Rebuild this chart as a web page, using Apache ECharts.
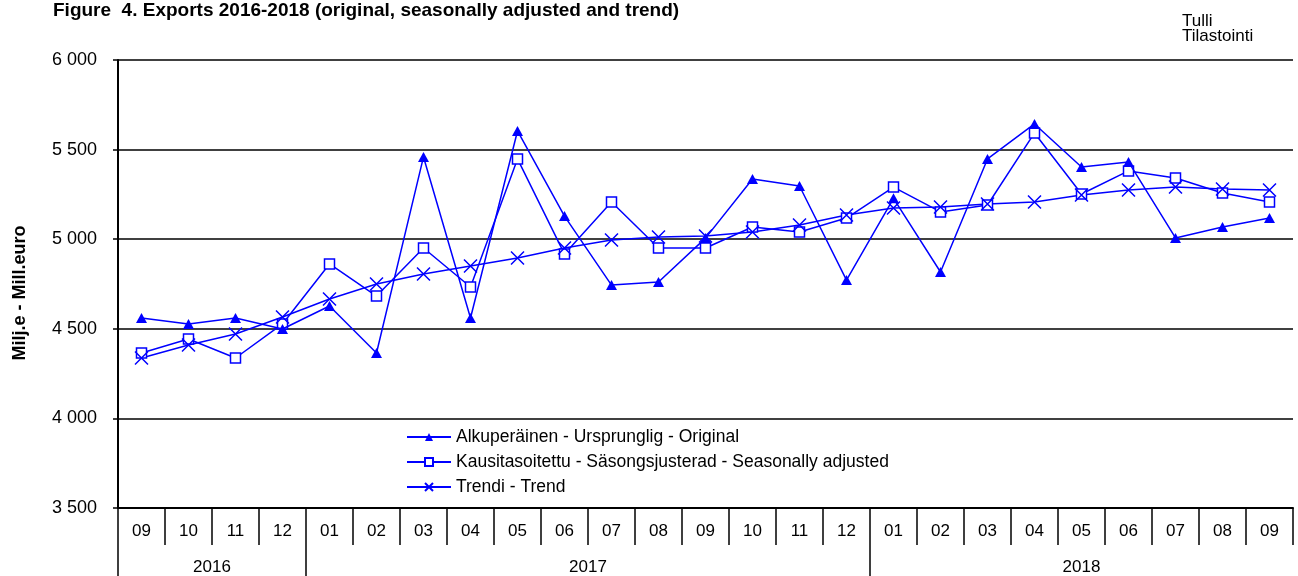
<!DOCTYPE html>
<html>
<head>
<meta charset="utf-8">
<script src="https://cdn.jsdelivr.net/npm/echarts@6/dist/echarts.min.js"></script>
<style>html,body{margin:0;padding:0;background:#fff}#c{width:1298px;height:576px}</style>
</head>
<body>
<div id="c"></div>
<script>
const months = ['09','10','11','12','01','02','03','04','05','06','07','08','09','10','11','12','01','02','03','04','05','06','07','08','09'];
const years = ['2016','2017','2018'];
const yearBoundaries = [0, 4, 16];
const yearCenters = [2, 10, 20.5];
const original = [4560,4527,4560,4499,4627,4365,5459,4560,5604,5129,4744,4761,5006,5336,5297,4772,5228,4817,5448,5643,5403,5431,5007,5068,5118];
const seasonal = [4365,4443,4337,4527,4862,4683,4951,4733,5448,4917,5208,4951,4951,5068,5040,5118,5291,5152,5191,5593,5252,5381,5342,5258,5208];
const trend = [4337,4410,4471,4566,4666,4750,4806,4850,4895,4951,4996,5012,5018,5040,5079,5135,5174,5180,5196,5208,5247,5275,5291,5280,5275];
const names = ['Alkuperäinen - Ursprunglig - Original','Kausitasoitettu - Säsongsjusterad - Seasonally adjusted','Trendi - Trend'];

const FONT = '"Liberation Sans", Arial, sans-serif';
const BLUE = '#0000ff';
const chart = echarts.init(document.getElementById('c'));
chart.setOption({
  animation: false,
  textStyle: {fontFamily: FONT},
  title: [
    {text: 'Figure  4. Exports 2016-2018 (original, seasonally adjusted and trend)', left: 48, top: -4,
     textStyle: {fontFamily: FONT, fontSize: 19, fontWeight: 'bold', color: '#000'}},
    {text: 'Tulli\nTilastointi', left: 1177, top: 9,
     textStyle: {fontFamily: FONT, fontSize: 17, fontWeight: 'normal', color: '#000', lineHeight: 15}}
  ],
  grid: {left: 118, right: 5, top: 60, bottom: 68, containLabel: false},
  legend: {
    orient: 'vertical', left: 401, top: 423, itemGap: 7, itemWidth: 44, itemHeight: 10,
    textStyle: {fontFamily: FONT, fontSize: 17.5, color: '#000'},
    data: names
  },
  xAxis: [
    {type: 'category', data: months, boundaryGap: true,
     axisLine: {show: true, lineStyle: {color: '#000', width: 2}},
     axisTick: {show: true, interval: 0, length: 37, lineStyle: {color: '#000', width: 1.5}},
     axisLabel: {interval: 0, margin: 15, fontFamily: FONT, fontSize: 17, color: '#000'}},
    {type: 'value', min: 0, max: 25, position: 'bottom', offset: 37,
     axisLine: {show: false}, splitLine: {show: false},
     axisTick: {show: true, customValues: yearBoundaries, length: 31, lineStyle: {color: '#000', width: 1.5}},
     axisLabel: {customValues: yearCenters, margin: 14, fontFamily: FONT, fontSize: 17, color: '#000',
       formatter: v => years[yearCenters.indexOf(v)] || ''}}
  ],
  yAxis: {
    type: 'value', min: 3500, max: 6000, interval: 500,
    name: 'Milj.e - Mill.euro', nameLocation: 'middle', nameGap: 89, nameRotate: 90,
    nameTextStyle: {fontFamily: FONT, fontSize: 18, fontWeight: 'bold', color: '#000', padding: [0, 18, 0, 0]},
    axisLine: {show: true, lineStyle: {color: '#000', width: 2}},
    axisTick: {show: true, length: 5, lineStyle: {color: '#000', width: 1.5}},
    axisLabel: {margin: 21, fontFamily: FONT, fontSize: 18, color: '#000',
      formatter: v => String(v).replace(/\B(?=(\d{3})+(?!\d))/g, ' ')},
    splitLine: {show: true, lineStyle: {color: '#000', width: 1.5}}
  },
  series: [
    {name: names[0], type: 'line', data: original, symbol: 'triangle', symbolSize: [11, 10],
     itemStyle: {color: BLUE}, lineStyle: {color: BLUE, width: 1.5}, z: 3},
    {name: names[1], type: 'line', data: seasonal, symbol: 'rect', symbolSize: 10,
     itemStyle: {color: '#fff', borderColor: BLUE, borderWidth: 1.5}, lineStyle: {color: BLUE, width: 1.5}, z: 2},
    {name: names[2], type: 'line', data: trend, symbol: 'path://M0,0L10,10M10,0L0,10', symbolSize: 13,
     itemStyle: {color: 'rgba(0,0,0,0)', borderColor: BLUE, borderWidth: 1.5}, lineStyle: {color: BLUE, width: 1.5}, z: 2}
  ]
});
</script>
</body>
</html>
